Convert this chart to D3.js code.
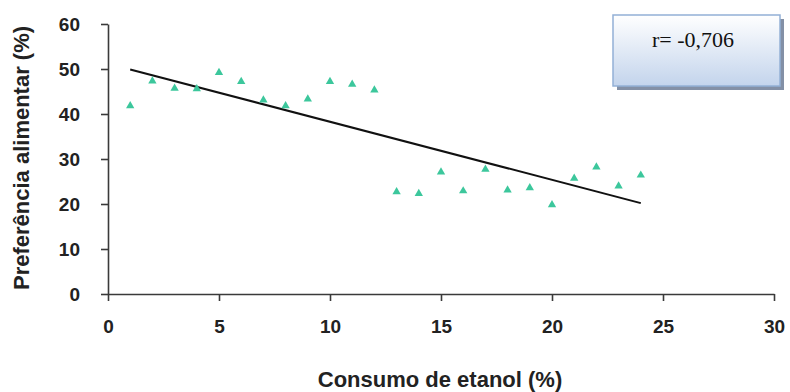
<!DOCTYPE html>
<html>
<head>
<meta charset="utf-8">
<script src="https://cdn.jsdelivr.net/npm/d3@7"></script>
<style>
  body { margin: 0; background: #fff; }
  svg { display: block; }
  .tick text { font-family: "Liberation Sans", Arial, sans-serif; font-weight: bold; fill: #222; }
</style>
</head>
<body>
<svg id="main" width="790" height="392"></svg>
<script>
const width = 790;
const height = 392;

// data
const consumo = [1, 2, 3, 4, 5, 6, 7, 8, 9, 10, 11, 12, 13, 14, 15, 16, 17, 18, 19, 20, 21, 22, 23, 24];
const preferencia = [41.8, 47.3, 45.7, 45.6, 49.2, 47.2, 43.1, 41.8, 43.3, 47.2, 46.6, 45.3,
    22.7, 22.3, 27.1, 22.9, 27.7, 23.1, 23.6, 19.8, 25.7, 28.2, 24, 26.4];
const trendX = [1, 24];
const trendY = [49.9, 20.2];
const xTicks = [0, 5, 10, 15, 20, 25, 30];
const yTicks = [0, 10, 20, 30, 40, 50, 60];
const rLabel = "r= -0,706";

const svg = d3.select('#main');

const x = d3.scaleLinear().domain([0, 30]).range([108, 774]);
const y = d3.scaleLinear().domain([0, 60]).range([294, 24]);

// axes
svg.append('g')
    .attr('transform', `translate(0, ${y(0)})`)
    .call(d3.axisBottom(x).tickValues(xTicks).tickSize(7).tickPadding(19).tickSizeOuter(0))
    .call(g => g.selectAll('text').style('font-size', '19px'))
    .call(g => g.selectAll('line, path').attr('stroke', '#3a3a3a').attr('stroke-width', 1.6));

svg.append('g')
    .attr('transform', `translate(${x(0)}, 0)`)
    .call(d3.axisLeft(y).tickValues(yTicks).tickSize(7).tickPadding(21).tickSizeOuter(0))
    .call(g => g.selectAll('text').style('font-size', '19px'))
    .call(g => g.selectAll('line, path').attr('stroke', '#3a3a3a').attr('stroke-width', 1.6));

// trend line
svg.append('line')
    .attr('x1', x(trendX[0])).attr('y1', y(trendY[0]))
    .attr('x2', x(trendX[1])).attr('y2', y(trendY[1]))
    .attr('stroke', '#111')
    .attr('stroke-width', 2);

// points
svg.append('g')
    .selectAll('path')
    .data(consumo)
    .enter()
    .append('path')
    .attr('d', d3.symbol().type(d3.symbolTriangle).size(30))
    .attr('transform', (d, i) => `translate(${x(d)}, ${y(preferencia[i])})`)
    .attr('fill', '#3cc79c');

// axis titles
svg.append('text')
    .attr('x', 440)
    .attr('y', 387)
    .attr('text-anchor', 'middle')
    .style('font-family', '"Liberation Sans", Arial, sans-serif')
    .style('font-weight', 'bold')
    .style('font-size', '22px')
    .attr('fill', '#222')
    .text('Consumo de etanol (%)');

svg.append('text')
    .attr('transform', 'translate(29, 158) rotate(-90)')
    .attr('text-anchor', 'middle')
    .style('font-family', '"Liberation Sans", Arial, sans-serif')
    .style('font-weight', 'bold')
    .style('font-size', '22px')
    .attr('fill', '#222')
    .text('Preferência alimentar (%)');

// correlation box
const defs = svg.append('defs');
const grad = defs.append('linearGradient')
    .attr('id', 'boxGrad')
    .attr('x1', 0).attr('y1', 0).attr('x2', 0).attr('y2', 1);
grad.append('stop').attr('offset', '0%').attr('stop-color', '#ffffff');
grad.append('stop').attr('offset', '100%').attr('stop-color', '#c3d4ec');

svg.append('rect')
    .attr('x', 617).attr('y', 19)
    .attr('width', 167).attr('height', 71)
    .attr('fill', '#8390a6');

svg.append('rect')
    .attr('x', 613).attr('y', 15)
    .attr('width', 167).attr('height', 71)
    .attr('fill', 'url(#boxGrad)')
    .attr('stroke', '#93b0d6')
    .attr('stroke-width', 1.5);

svg.append('text')
    .attr('x', 693)
    .attr('y', 47)
    .attr('text-anchor', 'middle')
    .style('font-family', '"Liberation Serif", "Times New Roman", serif')
    .style('font-size', '22px')
    .attr('fill', '#111')
    .text(rLabel);
</script>
</body>
</html>
